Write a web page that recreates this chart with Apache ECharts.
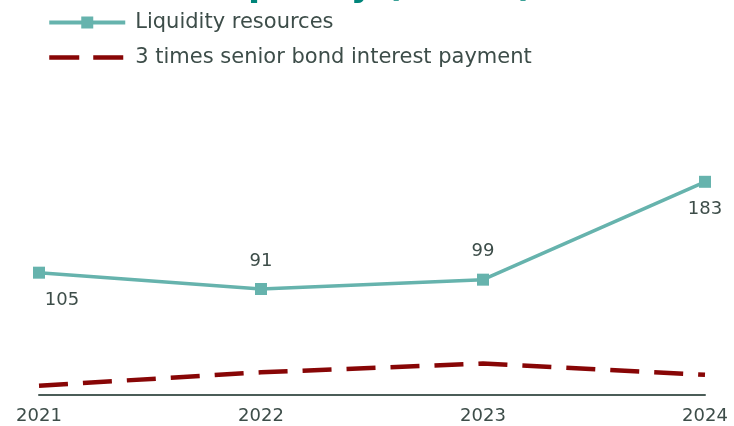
<!DOCTYPE html>
<html>
<head>
<meta charset="utf-8">
<script src="https://cdn.jsdelivr.net/npm/echarts@6/dist/echarts.min.js"></script>
<style>
  html, body { margin: 0; padding: 0; background: #ffffff; }
  #chart { width: 734px; height: 426px; }
</style>
</head>
<body>
<div id="chart"></div>
<script>
// Years on the category axis
const years = ['2021', '2022', '2023', '2024'];
// Liquidity resources (EURm)
const liquidity = [105, 91, 99, 183];
// Three times the senior bond interest payment (EURm)
const bondInterestX3 = [8, 19.5, 27, 17.3];
// Where each liquidity label sits relative to its point
const labelPlacement = ['bottom', 'top', 'top', 'bottom'];

const TEAL = '#66b3ad';
const DARK_RED = '#880606';
const TEXT = '#3d4d49';
const FONT = '"DejaVu Sans", sans-serif';

const chart = echarts.init(document.getElementById('chart'), null, { renderer: 'canvas' });

chart.setOption({
  animation: false,
  backgroundColor: '#ffffff',
  title: {
    text: 'Liquidity (EURm)',
    left: 'center',
    top: -36,
    textStyle: { color: '#00857a', fontSize: 35, fontWeight: 'bold', fontFamily: FONT, lineHeight: 35 }
  },
  legend: {
    orient: 'vertical',
    left: 47,
    top: 12,
    padding: 0,
    itemGap: 14,
    itemWidth: 76,
    itemHeight: 15,
    textStyle: { color: TEXT, fontSize: 21, fontFamily: FONT, lineHeight: 21, padding: [0, 0, 0, 5] },
    lineStyle: { width: 4 },
    data: [
      { name: 'Liquidity resources' },
      { name: '3 times senior bond interest payment',
        itemStyle: { opacity: 0 },
        lineStyle: { type: [30, 14], width: 4.5 } }
    ]
  },
  grid: { left: 39, right: 29, top: 162, bottom: 31, containLabel: false },
  xAxis: {
    type: 'category',
    data: years,
    boundaryGap: false,
    axisLine: { lineStyle: { color: '#4b5d58', width: 2 } },
    axisTick: { show: false },
    axisLabel: { color: TEXT, fontSize: 18, fontFamily: FONT, margin: 12 }
  },
  yAxis: {
    type: 'value',
    min: 0,
    max: 200,
    show: false,
    splitLine: { show: false }
  },
  series: [
    {
      name: 'Liquidity resources',
      type: 'line',
      data: liquidity.map((v, i) => ({
        value: v,
        label: {
          position: labelPlacement[i],
          offset: i === 0 ? [23, 0] : [0, 0]
        }
      })),
      symbol: 'rect',
      symbolSize: 12,
      itemStyle: { color: TEAL },
      lineStyle: { color: TEAL, width: 3.5 },
      label: {
        show: true,
        distance: 13,
        color: TEXT,
        fontSize: 18,
        fontFamily: FONT
      },
      z: 3
    },
    {
      name: '3 times senior bond interest payment',
      type: 'line',
      data: bondInterestX3,
      showSymbol: false,
      symbol: 'none',
      itemStyle: { color: DARK_RED },
      lineStyle: { color: DARK_RED, width: 4.5, type: [29, 15] },
      z: 2
    }
  ]
});
</script>
</body>
</html>
